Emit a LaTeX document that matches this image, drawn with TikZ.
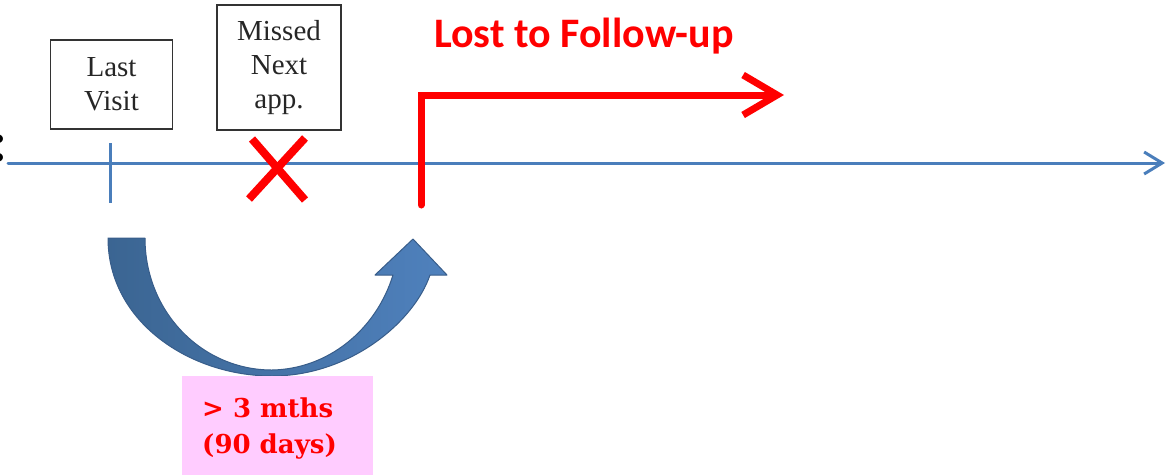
\documentclass[tikz,border=0pt]{standalone}
\usepackage{fontspec}
\setmainfont{Liberation Serif}
\newfontfamily\calib{Carlito}
\newfontfamily\dvs{DejaVu Serif}
\usetikzlibrary{arrows.meta}
\definecolor{tlblue}{HTML}{4A7EBB}
\definecolor{arcdark}{HTML}{3B6592}
\definecolor{arclight}{HTML}{4F81BD}
\definecolor{arcline}{HTML}{385D8A}
\definecolor{pinkbg}{HTML}{FFCCFF}
\definecolor{xred}{HTML}{FF0000}
\tikzset{
  boxlabel/.style={draw=black!80, line width=1.5pt, align=center, inner sep=0pt,
    font=\fontsize{29}{34}\selectfont, text=black!85},
  timeline/.style={tlblue, line width=3pt, -{Straight Barb[length=18pt,width=22pt]}, line cap=round, line join=round},
  tick/.style={tlblue, line width=3pt},
  crossline/.style={xred, line width=8pt},
  lostarrow/.style={xred, line width=7pt, -{Straight Barb[length=34pt,width=40pt]}, line cap=round, line join=miter},
  redtext/.style={text=xred},
  durtext/.style={anchor=base west, inner sep=0pt, text=xred, font=\dvs\bfseries\fontsize{26}{36}\selectfont}
}
\begin{document}
\begin{tikzpicture}[x=1pt,y=-1pt]
\useasboundingbox (0,0) rectangle (1167,475);
% cropped colon at left edge
\node[anchor=base east, inner sep=0pt, font=\calib\bfseries\fontsize{56}{56}\selectfont] (colon) at (7,161) {:};
% timeline
\coordinate (tl0) at (8,163);
\coordinate (tl1) at (1165,163);
\draw[timeline] (tl0) -- (tl1);
% tick of last visit
\coordinate (tk0) at (110,143);
\coordinate (tk1) at (110,203);
\draw[tick] (tk0) -- (tk1);
% boxes
\node[boxlabel, minimum width=122pt, minimum height=89pt] (last) at (111.5,84.5) {Last\\Visit};
\node[boxlabel, minimum width=124pt, minimum height=125pt] (missed) at (279,67.5) {Missed\\Next\\app.};
% red cross
\coordinate (xa) at (252,139);
\coordinate (xb) at (305,200);
\coordinate (xc) at (305,138);
\coordinate (xd) at (249,199);
\draw[crossline] (xa) -- (xb);
\draw[crossline] (xc) -- (xd);
% lost to follow-up arrow
\coordinate (ls) at (421,205);
\coordinate (lc) at (421,95);
\coordinate (le) at (784,95);
\draw[lostarrow] (ls) -- (lc) -- (le);
\node[anchor=base west, inner sep=0pt, redtext, font=\calib\bfseries\fontsize{42}{42}\selectfont] (lost) at (434,47) {Lost to Follow-up};
% curved arrow
\shade[left color=arcdark, right color=arclight, draw=arcline, line width=1pt, line join=round]
  (108,238) .. controls (108,322) and (190,376) .. (272,376)
  .. controls (350,376) and (414,322) .. (430,275)
  -- (447,275) -- (413,239) -- (375,275) -- (393,275)
  .. controls (376,330) and (328,369) .. (272,370)
  .. controls (202,370) and (145,312) .. (145,238) -- cycle;
% pink duration box
\fill[pinkbg] (182,376) rectangle (373,475);
\node[durtext] (d1) at (202,417) {> 3 mths};
\node[durtext] (d2) at (202,453) {(90 days)};
\end{tikzpicture}
\end{document}
